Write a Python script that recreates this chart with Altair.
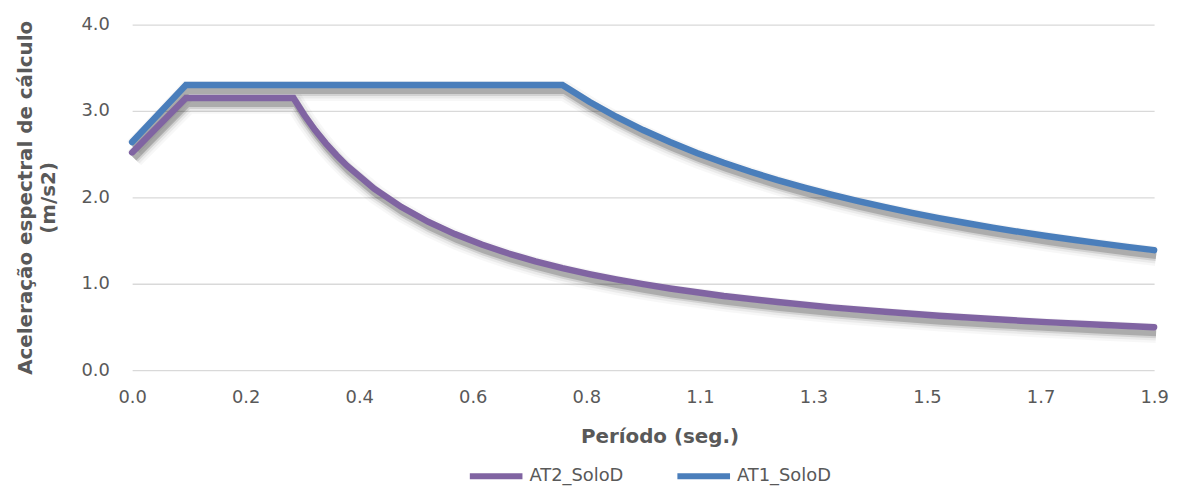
import altair as alt
import pandas as pd

# Series
at1_T = [0.0, 0.1, 0.8, 0.85, 0.9, 0.95, 1.0, 1.05, 1.1, 1.15, 1.2, 1.25, 1.3, 1.35,
         1.4, 1.45, 1.5, 1.55, 1.6, 1.65, 1.7, 1.75, 1.8, 1.85, 1.9]
at1_S = [2.64, 3.30, 3.30, 3.106, 2.933, 2.779, 2.64, 2.514, 2.40, 2.296, 2.20, 2.112,
         2.031, 1.956, 1.886, 1.821, 1.76, 1.703, 1.65, 1.60, 1.553, 1.509, 1.467,
         1.427, 1.389]

at2_T = [0.0, 0.1, 0.3, 0.32, 0.34, 0.36, 0.38, 0.4, 0.45, 0.5, 0.55, 0.6, 0.65, 0.7,
         0.75, 0.8, 0.85, 0.9, 0.95, 1.0, 1.1, 1.2, 1.3, 1.4, 1.5, 1.6, 1.7, 1.8, 1.9]
at2_S = [2.52, 3.15, 3.15, 2.953, 2.779, 2.625, 2.487, 2.363, 2.10, 1.89, 1.718, 1.575,
         1.454, 1.35, 1.26, 1.181, 1.112, 1.05, 0.995, 0.945, 0.859, 0.788, 0.727,
         0.675, 0.63, 0.591, 0.556, 0.525, 0.497]

series_names = ["AT2_SoloD", "AT1_SoloD"]
series_colors = ["#8064A2", "#4A7EBB"]

x_ticks = [0.0, 0.2111, 0.4222, 0.6333, 0.8444, 1.0556, 1.2667, 1.4778, 1.6889, 1.9]
y_ticks = [0.0, 1.0, 2.0, 3.0, 4.0]

rows = []
for t, s in zip(at2_T, at2_S):
    rows.append({"serie": "AT2_SoloD", "T": t, "S": s})
for t, s in zip(at1_T, at1_S):
    rows.append({"serie": "AT1_SoloD", "T": t, "S": s})
df = pd.DataFrame(rows)

FONT = "DejaVu Sans"
GREY = "#595959"

x_enc = alt.X(
    "T:Q",
    scale=alt.Scale(domain=[0, 1.9], nice=False, zero=False),
    axis=alt.Axis(
        values=x_ticks, format=".1f", title="Período (seg.)", grid=False,
        domain=False, ticks=False, labelFlush=False, labelPadding=19,
        labelFontSize=18, labelColor=GREY, labelFont=FONT,
        titleFontSize=20, titleFont=FONT, titleColor=GREY, titleFontWeight="bold",
        titleX=531, titleY=57, titleAnchor="middle", titleBaseline="top",
    ),
)
y_enc = alt.Y(
    "S:Q",
    scale=alt.Scale(domain=[0, 4], nice=False),
    axis=alt.Axis(
        values=y_ticks, format=".1f", title=["Aceleração espectral de cálculo", "(m/s2)"],
        grid=True, gridColor="#D9D9D9", gridWidth=1.3, domain=False, ticks=False,
        labelPadding=23, labelFontSize=18, labelColor=GREY, labelFont=FONT,
        titleFontSize=20, titleFont=FONT, titleColor=GREY, titleFontWeight="bold",
        titleAngle=-90, titleX=-117, titleY=174, titleAlign="center",
        titleBaseline="top", titleLineHeight=23,
    ),
)

shadow_specs = [(20, 0.03), (15, 0.05), (10, 0.10), (6, 0.18)]
layers = []
for sw, op in shadow_specs:
    layers.append(
        alt.Chart(df).mark_line(
            color="black", opacity=op, strokeWidth=sw, xOffset=2, yOffset=6,
            strokeCap="butt", strokeJoin="miter",
        ).encode(x=x_enc, y=y_enc, detail="serie:N", order="T:Q")
    )

main = alt.Chart(df).mark_line(strokeWidth=6.5, strokeCap="round", strokeJoin="miter").encode(
    x=x_enc, y=y_enc, order="T:Q",
    color=alt.Color(
        "serie:N",
        scale=alt.Scale(domain=series_names, range=series_colors),
        legend=alt.Legend(
            title=None, orient="none", legendX=337, legendY=425, direction="horizontal",
            symbolType="stroke", symbolSize=2809, symbolStrokeWidth=6,
            labelFontSize=18, labelFont=FONT, labelColor=GREY, labelOffset=4,
            columnPadding=42, padding=0,
        ),
    ),
)
layers.append(main)

chart = alt.layer(*layers).properties(
    width=1029, height=348,
    padding={"left": 125, "top": 15, "right": 16, "bottom": 117},
    autosize=alt.AutoSizeParams(type="none"),
    background="white",
).configure_view(stroke=None)

chart.save("out.html", embed_options={"renderer": "svg", "actions": False})
